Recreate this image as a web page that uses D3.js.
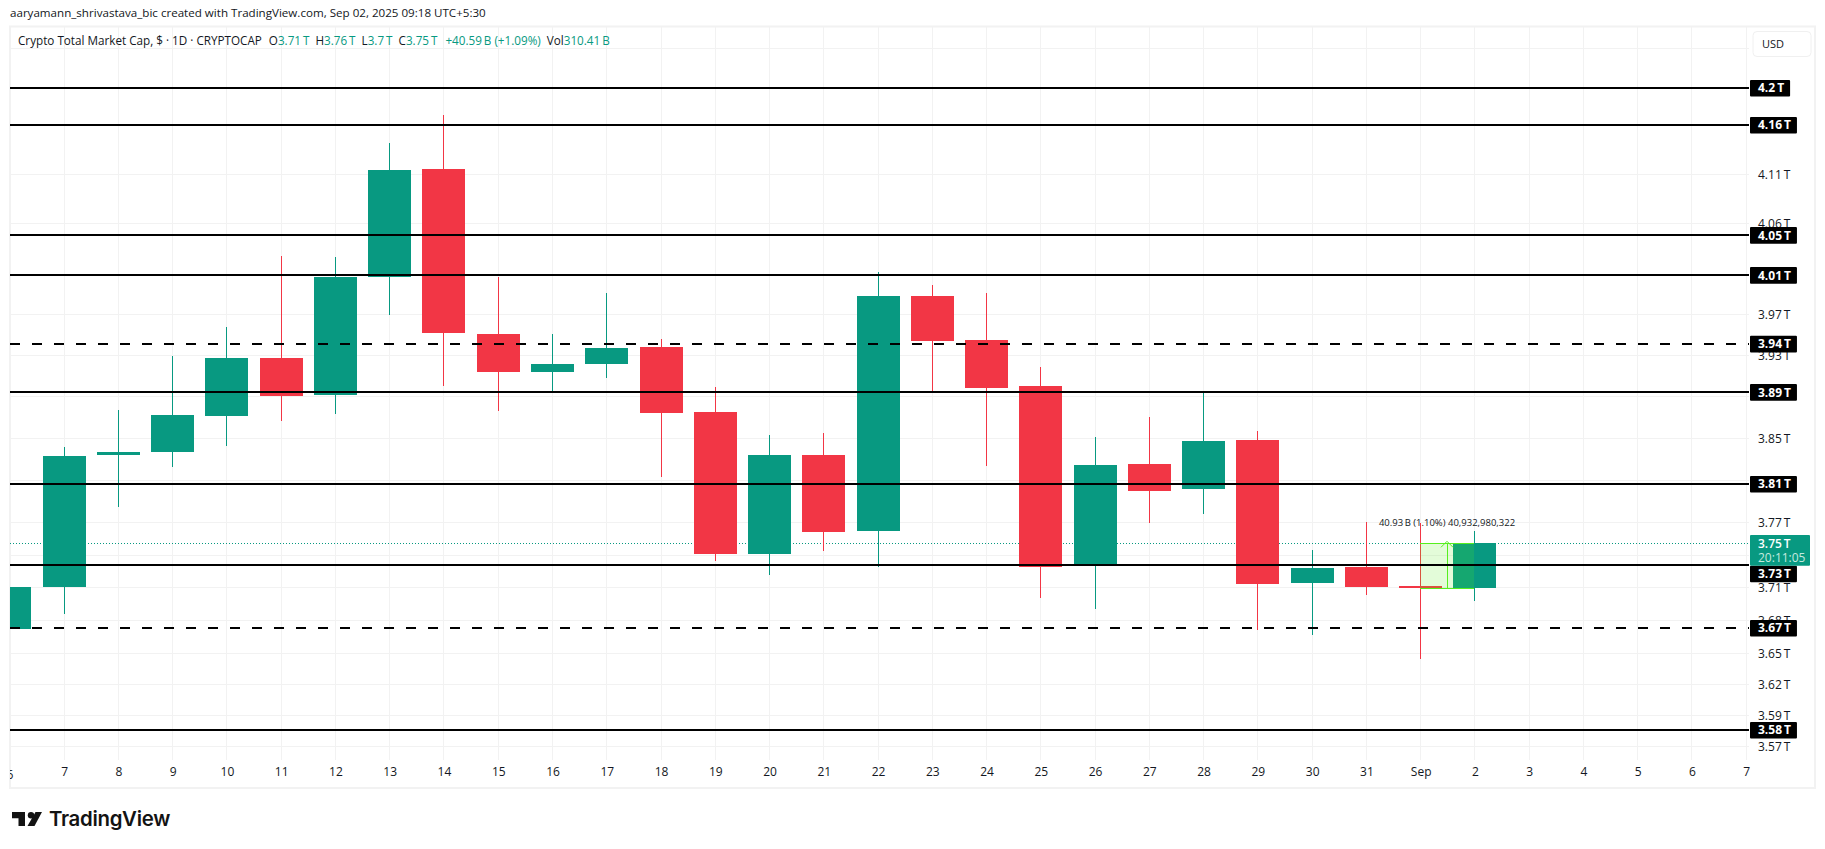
<!DOCTYPE html>
<html>
<head>
<meta charset="utf-8">
<title>Crypto Total Market Cap</title>
<script src="https://cdn.jsdelivr.net/npm/d3@7"></script>
<style>
html, body { margin: 0; padding: 0; background: #fff; overflow: hidden; }
svg { display: block; font-family: "Open Sans", sans-serif; }
</style>
</head>
<body>
<script>
// Daily candles, Aug 6 to Sep 2 (values in trillions)
var days = ["6", "7", "8", "9", "10", "11", "12", "13", "14", "15", "16", "17", "18", "19", "20", "21", "22", "23", "24", "25", "26", "27", "28", "29", "30", "31", "Sep", "2", "3", "4", "5", "6b", "7b"];
var opens  = [3.6710, 3.7095, 3.8332, 3.8361, 3.8706, 3.9269, 3.8908, 4.0072, 4.1161, 3.9505, 3.9133, 3.9209, 3.9376, 3.8745, 3.7400, 3.8332, 3.7616, 3.9879, 3.9444, 3.8997, 3.7290, 3.8247, 3.8010, 3.8476, 3.7131, 3.7281, 3.7104, 3.7085];
var highs  = [3.7095, 3.8407, 3.8765, 3.9290, 3.9574, 4.0278, 4.0268, 4.1427, 4.1714, 4.0069, 3.9505, 3.9910, 3.9455, 3.8988, 3.8522, 3.8542, 4.0116, 3.9989, 3.9910, 3.9182, 3.8505, 3.8698, 3.8932, 3.8562, 3.7437, 3.7699, 3.7690, 3.7615];
var lows   = [3.6710, 3.6843, 3.7838, 3.8217, 3.8416, 3.8659, 3.8725, 3.9692, 3.8998, 3.8755, 3.8944, 3.9075, 3.8122, 3.7334, 3.7207, 3.7425, 3.7280, 3.8944, 3.8226, 3.6993, 3.6892, 3.7690, 3.7774, 3.6701, 3.6655, 3.7021, 3.6434, 3.6966];
var closes = [3.7095, 3.8321, 3.8361, 3.8715, 3.9269, 3.8901, 4.0069, 4.1151, 3.9514, 3.9133, 3.9209, 3.9367, 3.8735, 3.7400, 3.8332, 3.7605, 3.9879, 3.9434, 3.8977, 3.7281, 3.8238, 3.7991, 3.8466, 3.7122, 3.7271, 3.7095, 3.7085, 3.7500];

// Price axis grid ticks, and the ones whose label is not covered by a tag
var priceTicks = [4.241, 4.2, 4.161, 4.1106, 4.0607, 4.0096, 3.9698, 3.9295, 3.8897, 3.8493, 3.8092, 3.7694, 3.7388, 3.7093, 3.6786, 3.6488, 3.6207, 3.5929, 3.5652];
var labelledTicks = [4.1106, 4.0607, 3.9698, 3.9295, 3.8493, 3.8092, 3.7694, 3.7093, 3.6786, 3.6488, 3.6207, 3.5929, 3.5652];

// Horizontal levels drawn by the author
var levelValues = [4.2, 4.1615, 4.049, 4.009, 3.941, 3.894, 3.806, 3.73, 3.672, 3.58];
var levelDashed = [false, false, false, false, true, false, false, false, true, false];

var lastPrice = 3.75;
var countdown = "20:11:05";
var measureText = "40.93\u2009B (1.10%) 40,932,980,322";

var width = 1825, height = 849;
var plot = { left: 10, right: 1747, top: 26, bottom: 760 };
var green = "#089981", red = "#F23645";

var svg = d3.select("body").append("svg")
    .attr("width", width)
    .attr("height", height);

svg.append("clipPath").attr("id", "plotClip")
    .append("rect")
    .attr("x", plot.left).attr("y", plot.top)
    .attr("width", plot.right - plot.left + 2)
    .attr("height", plot.bottom - plot.top);

var x = d3.scalePoint().domain(days).range([9.9, 1746.2]);
var y = d3.scaleLog().domain([3.5532, 4.265]).range([plot.bottom, plot.top]);

function px(d) { return Math.floor(x(d)); }
function fmtPrice(v) { return d3.format(".2f")(v) + "\u2009T"; }
function fmtLevel(v) { return d3.format(".3~r")(v) + "\u2009T"; }

// Chart frame
svg.append("rect")
    .attr("x", 10).attr("y", 26.5)
    .attr("width", 1805).attr("height", 761.5)
    .attr("fill", "none")
    .attr("stroke", "#f2f2f2")
    .attr("stroke-width", 2);

var chart = svg.append("g").attr("clip-path", "url(#plotClip)");

// Grid
var gridColor = "#f2f2f2";
chart.append("g")
    .selectAll("line")
    .data(days)
    .enter().append("line")
    .attr("x1", function(d) { return px(d) + 0.5; })
    .attr("x2", function(d) { return px(d) + 0.5; })
    .attr("y1", plot.top).attr("y2", plot.bottom)
    .attr("stroke", gridColor)
    .attr("shape-rendering", "crispEdges");

chart.append("g")
    .selectAll("line")
    .data(priceTicks)
    .enter().append("line")
    .attr("x1", plot.left).attr("x2", plot.right + 2)
    .attr("y1", function(d) { return y(d); })
    .attr("y2", function(d) { return y(d); })
    .attr("stroke", gridColor)
    .attr("shape-rendering", "crispEdges");

// Last price line, behind the candles
chart.append("line")
    .attr("x1", plot.left).attr("x2", plot.right + 2)
    .attr("y1", y(lastPrice)).attr("y2", y(lastPrice))
    .attr("stroke", green)
    .attr("stroke-dasharray", "1 2")
    .attr("shape-rendering", "crispEdges");

// Candles
var bodyWidth = 43;
var candles = chart.selectAll("g.candle")
    .data(opens)
    .enter().append("g")
    .attr("class", "candle")
    .attr("shape-rendering", "crispEdges")
    .attr("fill", function(d, i) { return closes[i] >= opens[i] ? green : red; });

candles.append("rect")
    .attr("x", function(d, i) { return px(days[i]); })
    .attr("width", 1)
    .attr("y", function(d, i) { return y(highs[i]); })
    .attr("height", function(d, i) { return y(lows[i]) - y(highs[i]); });

candles.append("rect")
    .attr("x", function(d, i) { return px(days[i]) - 21; })
    .attr("width", bodyWidth)
    .attr("y", function(d, i) { return y(Math.max(opens[i], closes[i])); })
    .attr("height", function(d, i) { return Math.max(2, Math.abs(y(opens[i]) - y(closes[i]))); });

// Price range measure on the last two bars
var mGreen = "#56ef1e";
var mX1 = px("Sep"), mX2 = px("2");
var mTop = y(closes[27]), mBottom = y(opens[27]);
chart.append("rect")
    .attr("x", mX1).attr("y", mTop)
    .attr("width", mX2 - mX1).attr("height", mBottom - mTop)
    .attr("fill", mGreen)
    .attr("fill-opacity", 0.17);
chart.selectAll("line.mEdge")
    .data([mTop, mBottom])
    .enter().append("line")
    .attr("class", "mEdge")
    .attr("x1", mX1).attr("x2", mX2)
    .attr("y1", function(d) { return d; })
    .attr("y2", function(d) { return d; })
    .attr("stroke", mGreen)
    .attr("shape-rendering", "crispEdges");
chart.append("line")
    .attr("x1", (mX1 + mX2) / 2).attr("x2", (mX1 + mX2) / 2)
    .attr("y1", mBottom).attr("y2", mTop)
    .attr("stroke", mGreen)
    .attr("shape-rendering", "crispEdges");
chart.append("path")
    .attr("d", d3.line()([[(mX1 + mX2) / 2 - 6, mTop + 4], [(mX1 + mX2) / 2, mTop - 2], [(mX1 + mX2) / 2 + 6, mTop + 4]]))
    .attr("fill", "none")
    .attr("stroke", mGreen);
chart.append("text")
    .attr("x", (mX1 + mX2) / 2)
    .attr("y", mTop - 17)
    .attr("text-anchor", "middle")
    .attr("font-size", 9.5)
    .attr("fill", "#131722")
    .text(measureText);

// Levels on top of the candles
svg.selectAll("line.level")
    .data(levelValues)
    .enter().append("line")
    .attr("class", "level")
    .attr("x1", 10).attr("x2", 1749)
    .attr("y1", function(d) { return Math.round(y(d)); })
    .attr("y2", function(d) { return Math.round(y(d)); })
    .attr("stroke", "#000")
    .attr("stroke-width", 2)
    .attr("shape-rendering", "crispEdges")
    .attr("stroke-dasharray", function(d, i) { return levelDashed[i] ? "10 12" : null; });

// Price axis
var yAxis = d3.axisRight(y)
    .tickValues(labelledTicks)
    .tickFormat(fmtPrice)
    .tickSize(0)
    .tickPadding(0);
var yAxisG = svg.append("g")
    .attr("transform", "translate(1758,0)")
    .call(yAxis);
yAxisG.select(".domain").remove();
yAxisG.selectAll("text")
    .attr("font-size", 12)
    .attr("font-family", "\"Open Sans\", sans-serif")
    .attr("fill", "#131722");

// Time axis
var xAxis = d3.axisBottom(x)
    .tickFormat(function(d) { return d.replace("b", ""); })
    .tickSize(0)
    .tickPadding(0);
var xAxisG = svg.append("g")
    .attr("transform", "translate(0,767)")
    .call(xAxis);
xAxisG.select(".domain").remove();
xAxisG.selectAll("text")
    .attr("font-size", 12)
    .attr("font-family", "\"Open Sans\", sans-serif")
    .attr("fill", "#131722");
// first label is cut by the chart's left edge
xAxisG.selectAll(".tick").filter(function(d, i) { return i === 0; }).remove();
svg.append("clipPath").attr("id", "firstTick")
    .append("rect").attr("x", 10).attr("y", 760).attr("width", 10).attr("height", 28);
svg.append("text")
    .attr("clip-path", "url(#firstTick)")
    .attr("x", x(days[0])).attr("y", 778.5)
    .attr("text-anchor", "middle")
    .attr("font-size", 12)
    .attr("fill", "#131722")
    .text(days[0]);

// Level tags, pushed down when they run into the last price tag
var tagH = 16.6;
var priceTagTop = 535, priceTagBottom = 565.7;
var tags = svg.selectAll("g.tag")
    .data(levelValues)
    .enter().append("g")
    .attr("class", "tag")
    .attr("transform", function(d) {
        var cy = y(d) + 0.5;
        if (cy + tagH / 2 > priceTagTop && cy - tagH / 2 < priceTagBottom) cy = priceTagBottom + tagH / 2;
        return "translate(1750," + cy + ")";
    });
var tagText = tags.append("text")
    .attr("x", 8)
    .attr("y", 0)
    .attr("dy", "0.35em")
    .attr("font-size", 12)
    .attr("font-weight", 700)
    .attr("fill", "#fff")
    .text(fmtLevel);
tags.insert("rect", "text")
    .attr("x", 0)
    .attr("y", -tagH / 2)
    .attr("height", tagH)
    .attr("rx", 1)
    .attr("width", function() {
        return this.parentNode.querySelector("text").getComputedTextLength() + 14;
    })
    .attr("fill", "#000");

// Last price tag
var priceTag = svg.append("g").attr("transform", "translate(1750," + priceTagTop + ")");
priceTag.append("rect")
    .attr("width", 60).attr("height", priceTagBottom - priceTagTop)
    .attr("rx", 1)
    .attr("fill", green);
priceTag.append("text")
    .attr("x", 8).attr("y", 13)
    .attr("font-size", 12).attr("font-weight", 600)
    .attr("fill", "#fff")
    .text(fmtPrice(lastPrice));
priceTag.append("text")
    .attr("x", 8).attr("y", 26.5)
    .attr("font-size", 12)
    .attr("fill", "#c4e9df")
    .text(countdown);

// USD button
svg.append("rect")
    .attr("x", 1753).attr("y", 31.5)
    .attr("width", 58).attr("height", 25)
    .attr("rx", 4)
    .attr("fill", "#fff")
    .attr("stroke", "#f0f0f0");
svg.append("text")
    .attr("x", 1762).attr("y", 48)
    .attr("font-size", 11)
    .attr("fill", "#131722")
    .text("USD");

// Top caption
svg.append("text")
    .attr("x", 10).attr("y", 17)
    .attr("font-size", 11.6)
    .attr("fill", "#131722")
    .text("aaryamann_shrivastava_bic created with TradingView.com, Sep 02, 2025 09:18 UTC+5:30");

// Legend row
var legendParts = [
    ["Crypto Total Market Cap, $ \u00b7 1D \u00b7 CRYPTOCAP", "#131722", 0],
    ["O", "#131722", 7], ["3.71\u2009T", green, 0],
    ["H", "#131722", 6], ["3.76\u2009T", green, 0],
    ["L", "#131722", 6], ["3.7\u2009T", green, 0],
    ["C", "#131722", 6], ["3.75\u2009T", green, 0],
    ["+40.59\u2009B (+1.09%)", green, 8],
    ["Vol", "#131722", 6], ["310.41\u2009B", green, 0]
];
svg.append("text")
    .attr("x", 18).attr("y", 45)
    .attr("font-size", 11.7)
    .selectAll("tspan")
    .data(legendParts)
    .enter().append("tspan")
    .attr("dx", function(d) { return d[2]; })
    .attr("fill", function(d) { return d[1]; })
    .text(function(d) { return d[0]; });

// TradingView mark
var logo = svg.append("g").attr("transform", "translate(12,812)").attr("fill", "#131313");
logo.append("path").attr("d", "M0 0H13V14H6.5V6.2H0Z");
logo.append("circle").attr("cx", 19).attr("cy", 3.2).attr("r", 3.2);
logo.append("path").attr("d", "M23.5 0H30L22.5 14H15.5Z");
svg.append("text")
    .attr("x", 49).attr("y", 826)
    .attr("font-family", "Inter, sans-serif")
    .attr("font-size", 20.4)
    .attr("font-weight", 600)
    .attr("letter-spacing", -0.3)
    .attr("fill", "#131313")
    .text("TradingView");
</script>
</body>
</html>
